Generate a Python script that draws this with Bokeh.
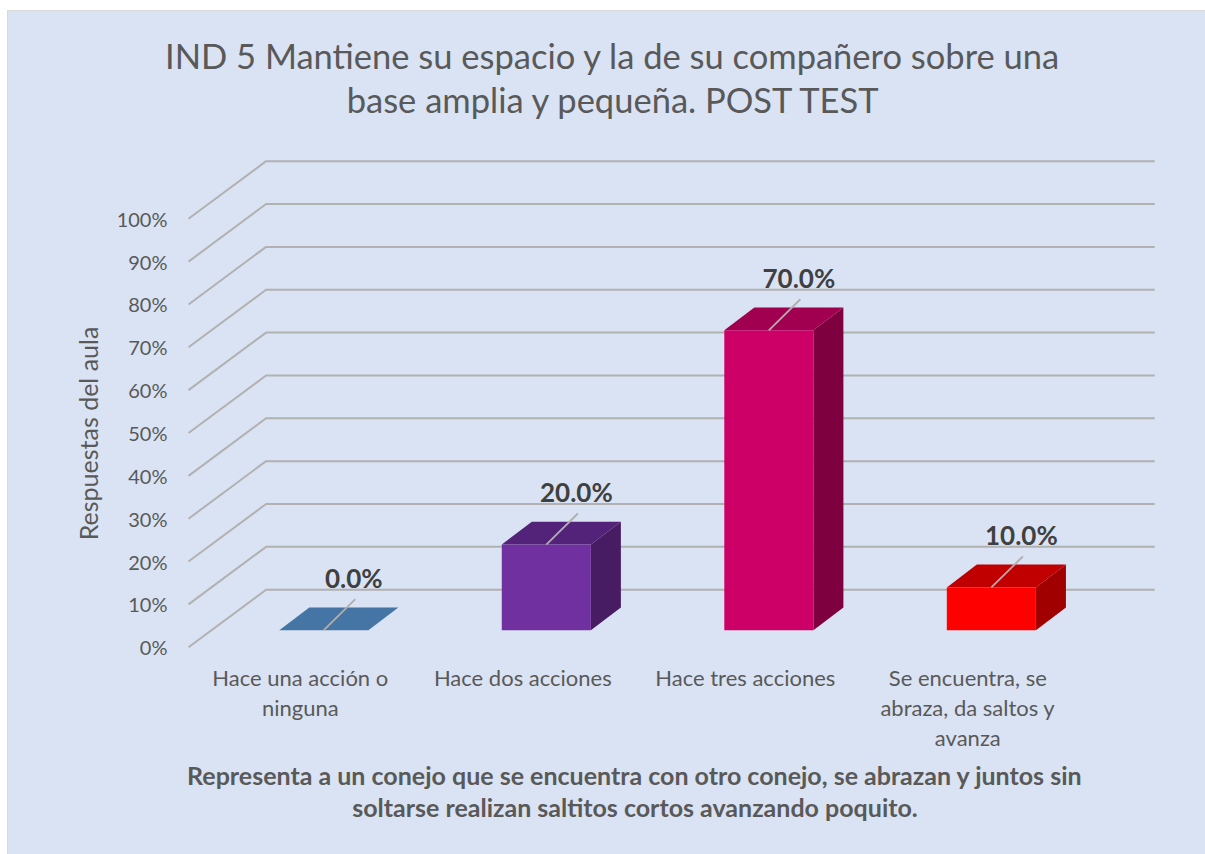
from bokeh.embed import file_html
from bokeh.resources import INLINE
from bokeh.plotting import figure
from bokeh.models import FixedTicker, ColumnDataSource
from bokeh.core.properties import value

# ---- data ----
categories = ["Hace una acción o\nninguna", "Hace dos acciones", "Hace tres acciones",
              "Se encuentra, se\nabraza, da saltos y\navanza"]
values = [0.0, 20.0, 70.0, 10.0]
value_labels = ["0.0%", "20.0%", "70.0%", "10.0%"]
y_ticks = [0, 10, 20, 30, 40, 50, 60, 70, 80, 90, 100]
y_tick_labels = ["0%", "10%", "20%", "30%", "40%", "50%", "60%", "70%", "80%", "90%", "100%"]
front_colors = ["#4575A4", "#7030A0", "#CC0066", "#FF0000"]
side_colors = ["#2F5070", "#481C62", "#7F003F", "#A00000"]
top_colors = ["#4575A4", "#522378", "#A0004F", "#C00000"]
title_lines = ["IND 5 Mantiene su espacio y la de su compañero sobre una",
               "base amplia y pequeña.  POST TEST"]
y_title = "Respuestas del aula"
x_title_lines = ["Representa a un conejo que se encuentra con otro conejo, se abrazan y juntos sin",
                 "soltarse realizan saltitos cortos avanzando poquito."]

# ---- layout ----
ML, MT = 8, 11             # page position of the chart panel
W, H = 1205 - ML + 1, 854 - MT + 1
X0, Y0 = 188.0, 646.0      # page pixel of the front-left floor corner
FRAME_LEFT = 160           # page pixel where the plot frame starts
UX, UY = 222.3, 4.28       # pixels per category, per percent
FONT = "Lato"
BG = "#DAE3F3"
GRID = "#B0AEAE"
TXT = "#595959"


def dx(px):
    return px / UX


def dy(px):
    return px / UY


def X(page_x):
    return (page_x - X0) / UX


def Y(page_y):
    return (Y0 - page_y) / UY


WALL_DX, WALL_DY = dx(77.5), dy(57.5)
WALL_END = X(1153.3)
BAR_X, BAR_Y = dx(24), dy(17)
BAR_HALF = dx(44.5)
BAR_DX, BAR_DY = dx(30), dy(22.8)

p = figure(width=W, height=H, output_backend="svg", toolbar_location=None,
           margin=(MT - 1, 0, 0, ML - 1),
           styles={"border-left": "1px solid #D9D9D9", "border-top": "1px solid #D9D9D9",
                   "background": BG},
           x_range=(X(FRAME_LEFT), X(1205)), y_range=(Y(854), Y(MT)),
           min_border_left=FRAME_LEFT - ML, min_border_right=0, min_border_top=0, min_border_bottom=0,
           background_fill_color=None, border_fill_color=None, outline_line_color=None)
p.grid.visible = False
p.xaxis.visible = False
ax = p.yaxis[0]
ax.ticker = FixedTicker(ticks=y_ticks)
ax.major_label_overrides = {t: s for t, s in zip(y_ticks, y_tick_labels)}
ax.axis_line_color = None
ax.major_tick_line_color = None
ax.minor_tick_line_color = None
ax.major_label_standoff = -13
ax.major_label_text_font = FONT
ax.major_label_text_font_size = "20px"
ax.major_label_text_color = TXT
ax.axis_label = y_title
ax.axis_label_text_font = FONT
ax.axis_label_text_font_style = "normal"
ax.axis_label_text_font_size = "25px"
ax.axis_label_text_color = TXT
ax.axis_label_standoff = 11

# gridlines on the side wall and back wall
p.multi_line(xs=[[0, WALL_DX, WALL_END] for _ in y_ticks],
             ys=[[t, t + WALL_DY, t + WALL_DY] for t in y_ticks],
             line_color=GRID, line_width=2, line_alpha=0.95)

# bars
for i, v in enumerate(values):
    l = i + BAR_X + 0.5 - BAR_HALF
    r = i + BAR_X + 0.5 + BAR_HALF
    b = BAR_Y
    t = BAR_Y + v
    p.patches(xs=[[r, r + BAR_DX, r + BAR_DX, r]], ys=[[b, b + BAR_DY, t + BAR_DY, t]],
              fill_color=side_colors[i], line_color=None)
    p.patches(xs=[[l, r, r + BAR_DX, l + BAR_DX]], ys=[[t, t, t + BAR_DY, t + BAR_DY]],
              fill_color=top_colors[i], line_color=None)
    p.patches(xs=[[l, r, r, l]], ys=[[b, b, t, t]],
              fill_color=front_colors[i], line_color=None)

# leader lines and data labels
cx = [i + 0.5 + BAR_X for i in range(len(values))]
ty = [v + BAR_Y for v in values]
p.segment(x0=cx, y0=ty, x1=[c + dx(31.5) for c in cx], y1=[t + dy(31) for t in ty],
          line_color=GRID, line_width=1.8)


def texts(strings, xs, ys, size, bold=False, color=TXT):
    src = ColumnDataSource(dict(x=xs, y=ys, s=strings))
    p.text(x="x", y="y", text="s", source=src, text_align="center", text_baseline="middle",
           text_font=value(FONT), text_font_size=size, text_color=color,
           text_font_style="bold" if bold else "normal")


texts(value_labels, [c + dx(30) for c in cx], [t + dy(52) for t in ty], "26px", bold=True, color="#404040")
texts(title_lines, [X(612), X(618)], [Y(55), Y(99)], "34.5px")
cat_s, cat_x, cat_y = [], [], []
for i, cat in enumerate(categories):
    for j, line in enumerate(cat.split("\n")):
        cat_s.append(line)
        cat_x.append(i + 0.5 + dx(0.5))
        cat_y.append(Y(676 + 30 * j))
texts(cat_s, cat_x, cat_y, "22px")
texts(x_title_lines, [X(634), X(634)], [Y(774), Y(806)], "25px", bold=True)

open("out.html", "w").write(file_html(p, INLINE))
